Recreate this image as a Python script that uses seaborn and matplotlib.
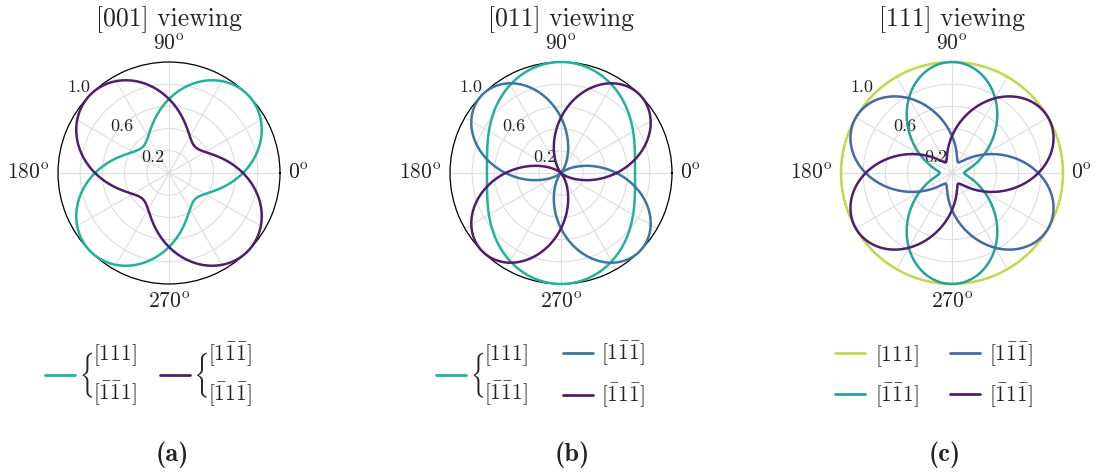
import numpy as np
import pandas as pd
import matplotlib
matplotlib.use("Agg")
import matplotlib.pyplot as plt
import seaborn as sns
from matplotlib.legend_handler import HandlerLine2D
from matplotlib.lines import Line2D
from matplotlib.patches import PathPatch
from matplotlib.textpath import TextPath
from matplotlib.transforms import Affine2D

# Emission response of each NV axis versus polariser angle:
#   r(phi) = floor + (1 - floor) * cos^2(phi - peak)
titles = ["[001] viewing", "[011] viewing", "[111] viewing"]
tags = ["(a)", "(b)", "(c)"]

a_keys = ["111", "1-1-1"]
a_peak = [45, 135]
a_floor = [0.333, 0.333]
a_colors = ["#21b29b", "#4f1f6d"]

b_keys = ["111", "1-1-1", "-11-1"]
b_peak = [90, 135, 45]
b_floor = [0.667, 0.0, 0.0]
b_colors = ["#21b29b", "#3b77a1", "#4f1f6d"]

c_keys = ["111", "-1-11", "1-1-1", "-11-1"]
c_peak = [0, 90, 150, 30]
c_floor = [1.0, 0.111, 0.111, 0.111]
c_colors = ["#c2d94e", "#29a29c", "#4569a3", "#4f1f6d"]

r_ticks = [0.2, 0.4, 0.6, 0.8, 1.0]
r_ticklabels = ["0.2", "", "0.6", "", "1.0"]
theta_grid = list(range(0, 360, 30))
theta_named = {0: r"$0^{\rm o}$", 90: r"$90^{\rm o}$",
               180: r"$180^{\rm o}$", 270: r"$270^{\rm o}$"}
theta_align = {0: ("left", "center"), 90: ("center", "bottom"),
               180: ("right", "center"), 270: ("center", "top")}

lab_111 = r"$[111]$"
lab_bb1 = r"$[\bar{1}\bar{1}1]$"
lab_1bb = r"$[1\bar{1}\bar{1}]$"
lab_b1b = r"$[\bar{1}1\bar{1}]$"

sns.set_theme(style="whitegrid")
plt.rcParams["font.family"] = "serif"
plt.rcParams["font.serif"] = ["cmr10"]
plt.rcParams["mathtext.fontset"] = "cm"
plt.rcParams["axes.formatter.use_mathtext"] = True
plt.rcParams["axes.unicode_minus"] = False

TEXT = "#222222"
LEG_FS = 15.5

phi_deg = np.linspace(0, 360, 721)


def response_frame(keys, peaks, floors):
    parts = []
    for k, p, f in zip(keys, peaks, floors):
        r = f + (1 - f) * np.cos(np.deg2rad(phi_deg - p)) ** 2
        parts.append(pd.DataFrame({"theta": np.deg2rad(phi_deg), "r": r, "dipole": k}))
    return pd.concat(parts, ignore_index=True)


class BracedLine(HandlerLine2D):
    """Line handle followed by a tall brace that groups a two-line label."""

    def __init__(self, line_frac=0.64, **kw):
        super().__init__(**kw)
        self.line_frac = line_frac

    def create_artists(self, legend, orig_handle, xdescent, ydescent,
                       width, height, fontsize, trans):
        line_w = width * self.line_frac
        artists = super().create_artists(legend, orig_handle, xdescent, ydescent,
                                         line_w, height, fontsize, trans)
        tp = TextPath((0, 0), r"$\{$", size=fontsize)
        ext = tp.get_extents()
        sy = 2.1 * fontsize / ext.height
        sx = 0.44 * fontsize / ext.width
        yc = (height - ydescent) / 2
        x_right = -xdescent + width
        tf = (Affine2D()
              .translate(-ext.x1, -(ext.y0 + ext.y1) / 2)
              .scale(sx, sy)
              .translate(x_right, yc) + trans)
        artists.append(PathPatch(tp, transform=tf, facecolor=TEXT,
                                 edgecolor="none", lw=0))
        return artists


fig = plt.figure(figsize=(10.97, 4.75), dpi=100)
W, H = 1097.0, 475.0
size_px = 222.0
lefts_px = [58, 450, 841]
top_px = 62

panels = [
    (a_keys, a_peak, a_floor, a_colors),
    (b_keys, b_peak, b_floor, b_colors),
    (c_keys, c_peak, c_floor, c_colors),
]

for i, (keys, peaks, floors, colors) in enumerate(panels):
    rect = [lefts_px[i] / W, 1 - (top_px + size_px) / H, size_px / W, size_px / H]
    ax = fig.add_axes(rect, projection="polar")
    df = response_frame(keys, peaks, floors)
    sns.lineplot(data=df, x="theta", y="r", hue="dipole", hue_order=keys,
                 palette=dict(zip(keys, colors)), ax=ax, legend=False,
                 linewidth=1.8, sort=False, zorder=3, clip_on=False)
    ax.set_xlabel("")
    ax.set_ylabel("")
    ax.set_ylim(0, 1.0)
    ax.set_rticks(r_ticks)
    ax.set_yticklabels(r_ticklabels, fontsize=13, color=TEXT)
    ax.set_rlabel_position(135)
    ax.tick_params(axis="y", pad=0)
    for lab, val in zip(ax.yaxis.get_ticklabels(), r_ticks):
        if val >= 1.0:
            lab.set_horizontalalignment("right")
            lab.set_verticalalignment("bottom")
        else:
            lab.set_horizontalalignment("center")
            lab.set_verticalalignment("center")
    ax.set_thetagrids(theta_grid, [theta_named.get(t, "") for t in theta_grid],
                      fontsize=15.5, color=TEXT)
    ax.tick_params(axis="x", pad=-7)
    for lab, t in zip(ax.xaxis.get_ticklabels(), theta_grid):
        if t in theta_align:
            h_al, v_al = theta_align[t]
            lab.set_horizontalalignment(h_al)
            lab.set_verticalalignment(v_al)
    ax.grid(True, color="#dddddd", linewidth=0.8)
    ax.spines["polar"].set_color("black")
    ax.spines["polar"].set_linewidth(0.9)
    ax.set_title(titles[i], fontsize=18.5, y=1.162, pad=0, color=TEXT)

    fig.text([172, 572, 945][i] / W, 1 - 455 / H, tags[i], family="cmb10",
             ha="center", va="center", fontsize=19, color=TEXT)


def handles_for(colors):
    return [Line2D([], [], color=c, lw=2.0) for c in colors]


common = dict(loc="center left", bbox_transform=fig.transFigure, frameon=False,
              borderpad=0, borderaxespad=0, fontsize=LEG_FS)
y_leg = 1 - 375 / H

# (a) two braced pairs
ha = handles_for(a_colors)
leg_a = fig.legend(ha, [lab_111 + "\n" + lab_bb1, lab_1bb + "\n" + lab_b1b],
                   bbox_to_anchor=(45 / W, y_leg), ncol=2, handlelength=2.19,
                   handletextpad=0.05, columnspacing=1.05,
                   handler_map={h: BracedLine() for h in ha}, **common)

# (b) braced pair, then two single entries
hb = handles_for(b_colors)
leg_b1 = fig.legend([hb[0]], [lab_111 + "\n" + lab_bb1],
                    bbox_to_anchor=(436 / W, y_leg), handlelength=2.19,
                    handletextpad=0.05, handler_map={hb[0]: BracedLine()}, **common)
leg_b2 = fig.legend(hb[1:], [lab_1bb, lab_b1b], bbox_to_anchor=(563 / W, y_leg),
                    handlelength=1.4, handletextpad=0.35, labelspacing=0.65, **common)

# (c) 2 x 2 grid
hc = handles_for(c_colors)
leg_c = fig.legend(hc, [lab_111, lab_bb1, lab_1bb, lab_b1b],
                   bbox_to_anchor=(835 / W, y_leg), ncol=2, handlelength=1.4,
                   handletextpad=0.45, columnspacing=1.44, labelspacing=0.6, **common)

for leg in (leg_a, leg_b1):
    for t in leg.get_texts():
        t.set_linespacing(1.55)
for leg in (leg_a, leg_b1, leg_b2, leg_c):
    for t in leg.get_texts():
        t.set_color(TEXT)

fig.savefig("out.png", dpi=100)
